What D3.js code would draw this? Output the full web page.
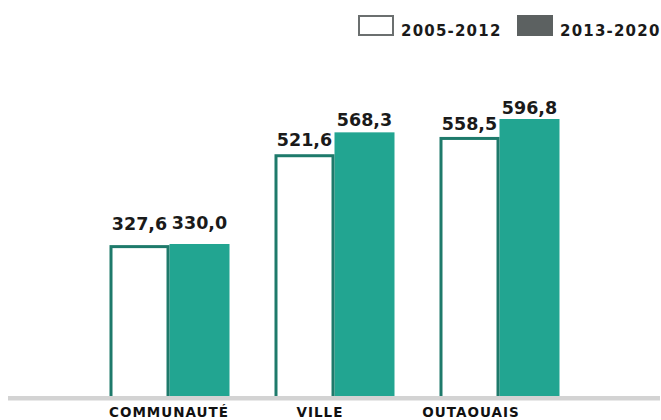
<!DOCTYPE html>
<html>
<head>
<meta charset="utf-8">
<script src="https://cdn.jsdelivr.net/npm/d3@7"></script>
<style>
  html, body { margin: 0; padding: 0; background: #ffffff; }
  svg { display: block; }
  text { font-family: "DejaVu Sans", Verdana, sans-serif; font-weight: bold; }
</style>
</head>
<body>
<svg id="chart" width="661" height="420"></svg>
<script>
// Average values per territory for two periods
const categories = ["COMMUNAUTÉ", "VILLE", "OUTAOUAIS"];
const seriesNames = ["2005-2012", "2013-2020"];
const values2005_2012 = [327.6, 521.6, 558.5];
const values2013_2020 = [330.0, 568.3, 596.8];

const fmt = v => d3.format(".1f")(v).replace(".", ",");

const svg = d3.select("#chart");

const teal = "#22a591";
const tealDark = "#1e7a6b";

// Bar groups
const x0 = d3.scaleBand()
  .domain(categories)
  .range([109.5, 559.5])
  .paddingInner(0.2727)
  .paddingOuter(0);
const x1 = d3.scaleBand()
  .domain(seriesNames)
  .range([0, x0.bandwidth()])
  .padding(0);

const y = d3.scaleLinear().domain([0, 600]).range([398.6, 117.5]);
// value label baselines
const yLabel = d3.scaleLinear().domain([0, 600]).range([371.2, 112.6]);
// category label centres
const xLabel = d3.scalePoint().domain(categories).range([169, 471]);

const rows = categories.map((c, i) => ({
  cat: c,
  vals: [
    { s: seriesNames[0], v: values2005_2012[i] },
    { s: seriesNames[1], v: values2013_2020[i] }
  ]
}));

const g = svg.append("g");
const groups = g.selectAll("g.grp").data(rows).join("g")
  .attr("class", "grp")
  .attr("transform", d => `translate(${x0(d.cat)},0)`);

// 2013-2020: solid teal bars
groups.append("rect")
  .attr("x", x1(seriesNames[1]))
  .attr("width", x1.bandwidth())
  .attr("y", d => y(d.vals[1].v))
  .attr("height", d => y(0) - y(d.vals[1].v))
  .attr("fill", teal);

// 2005-2012: white bars with dark teal outline (bottom edge hidden by the baseline)
groups.append("rect")
  .attr("x", x1(seriesNames[0]) + 1.5)
  .attr("width", x1.bandwidth() - 3)
  .attr("y", d => y(d.vals[0].v) + 1.5)
  .attr("height", d => y(0) - y(d.vals[0].v) - 2.6)
  .attr("fill", "#ffffff")
  .attr("stroke", tealDark)
  .attr("stroke-width", 3);

// value labels
groups.selectAll("text.val").data(d => d.vals).join("text")
  .attr("class", "val")
  .attr("x", d => x1(d.s) + x1.bandwidth() / 2)
  .attr("y", d => yLabel(d.v))
  .attr("text-anchor", "middle")
  .attr("font-size", 17.5)
  .attr("fill", "#1a1a1a")
  .text(d => fmt(d.v));

// baseline
svg.append("rect")
  .attr("x", 8).attr("y", 396)
  .attr("width", 652).attr("height", 4.5)
  .attr("fill", "#d3d3d3");

// category labels
svg.selectAll("text.cat").data(categories).join("text")
  .attr("class", "cat")
  .attr("x", d => xLabel(d))
  .attr("y", 417)
  .attr("text-anchor", "middle")
  .attr("font-size", 13.5)
  .attr("letter-spacing", "1px")
  .attr("fill", "#111111")
  .text(d => d);

// legend
const legend = svg.append("g");
const legendItems = [
  { name: seriesNames[0], x: 358, fill: "#ffffff", stroke: "#6b6f6f" },
  { name: seriesNames[1], x: 517, fill: "#5c6161", stroke: "#5c6161" }
];
legendItems.forEach(it => {
  legend.append("rect")
    .attr("x", it.x + 1).attr("y", 16)
    .attr("width", 34).attr("height", 19)
    .attr("fill", it.fill)
    .attr("stroke", it.stroke)
    .attr("stroke-width", 2);
  legend.append("text")
    .attr("x", it.x + 43)
    .attr("y", 36)
    .attr("font-size", 15)
    .attr("letter-spacing", "1.2px")
    .attr("fill", "#1a1a1a")
    .text(it.name);
});
</script>
</body>
</html>
